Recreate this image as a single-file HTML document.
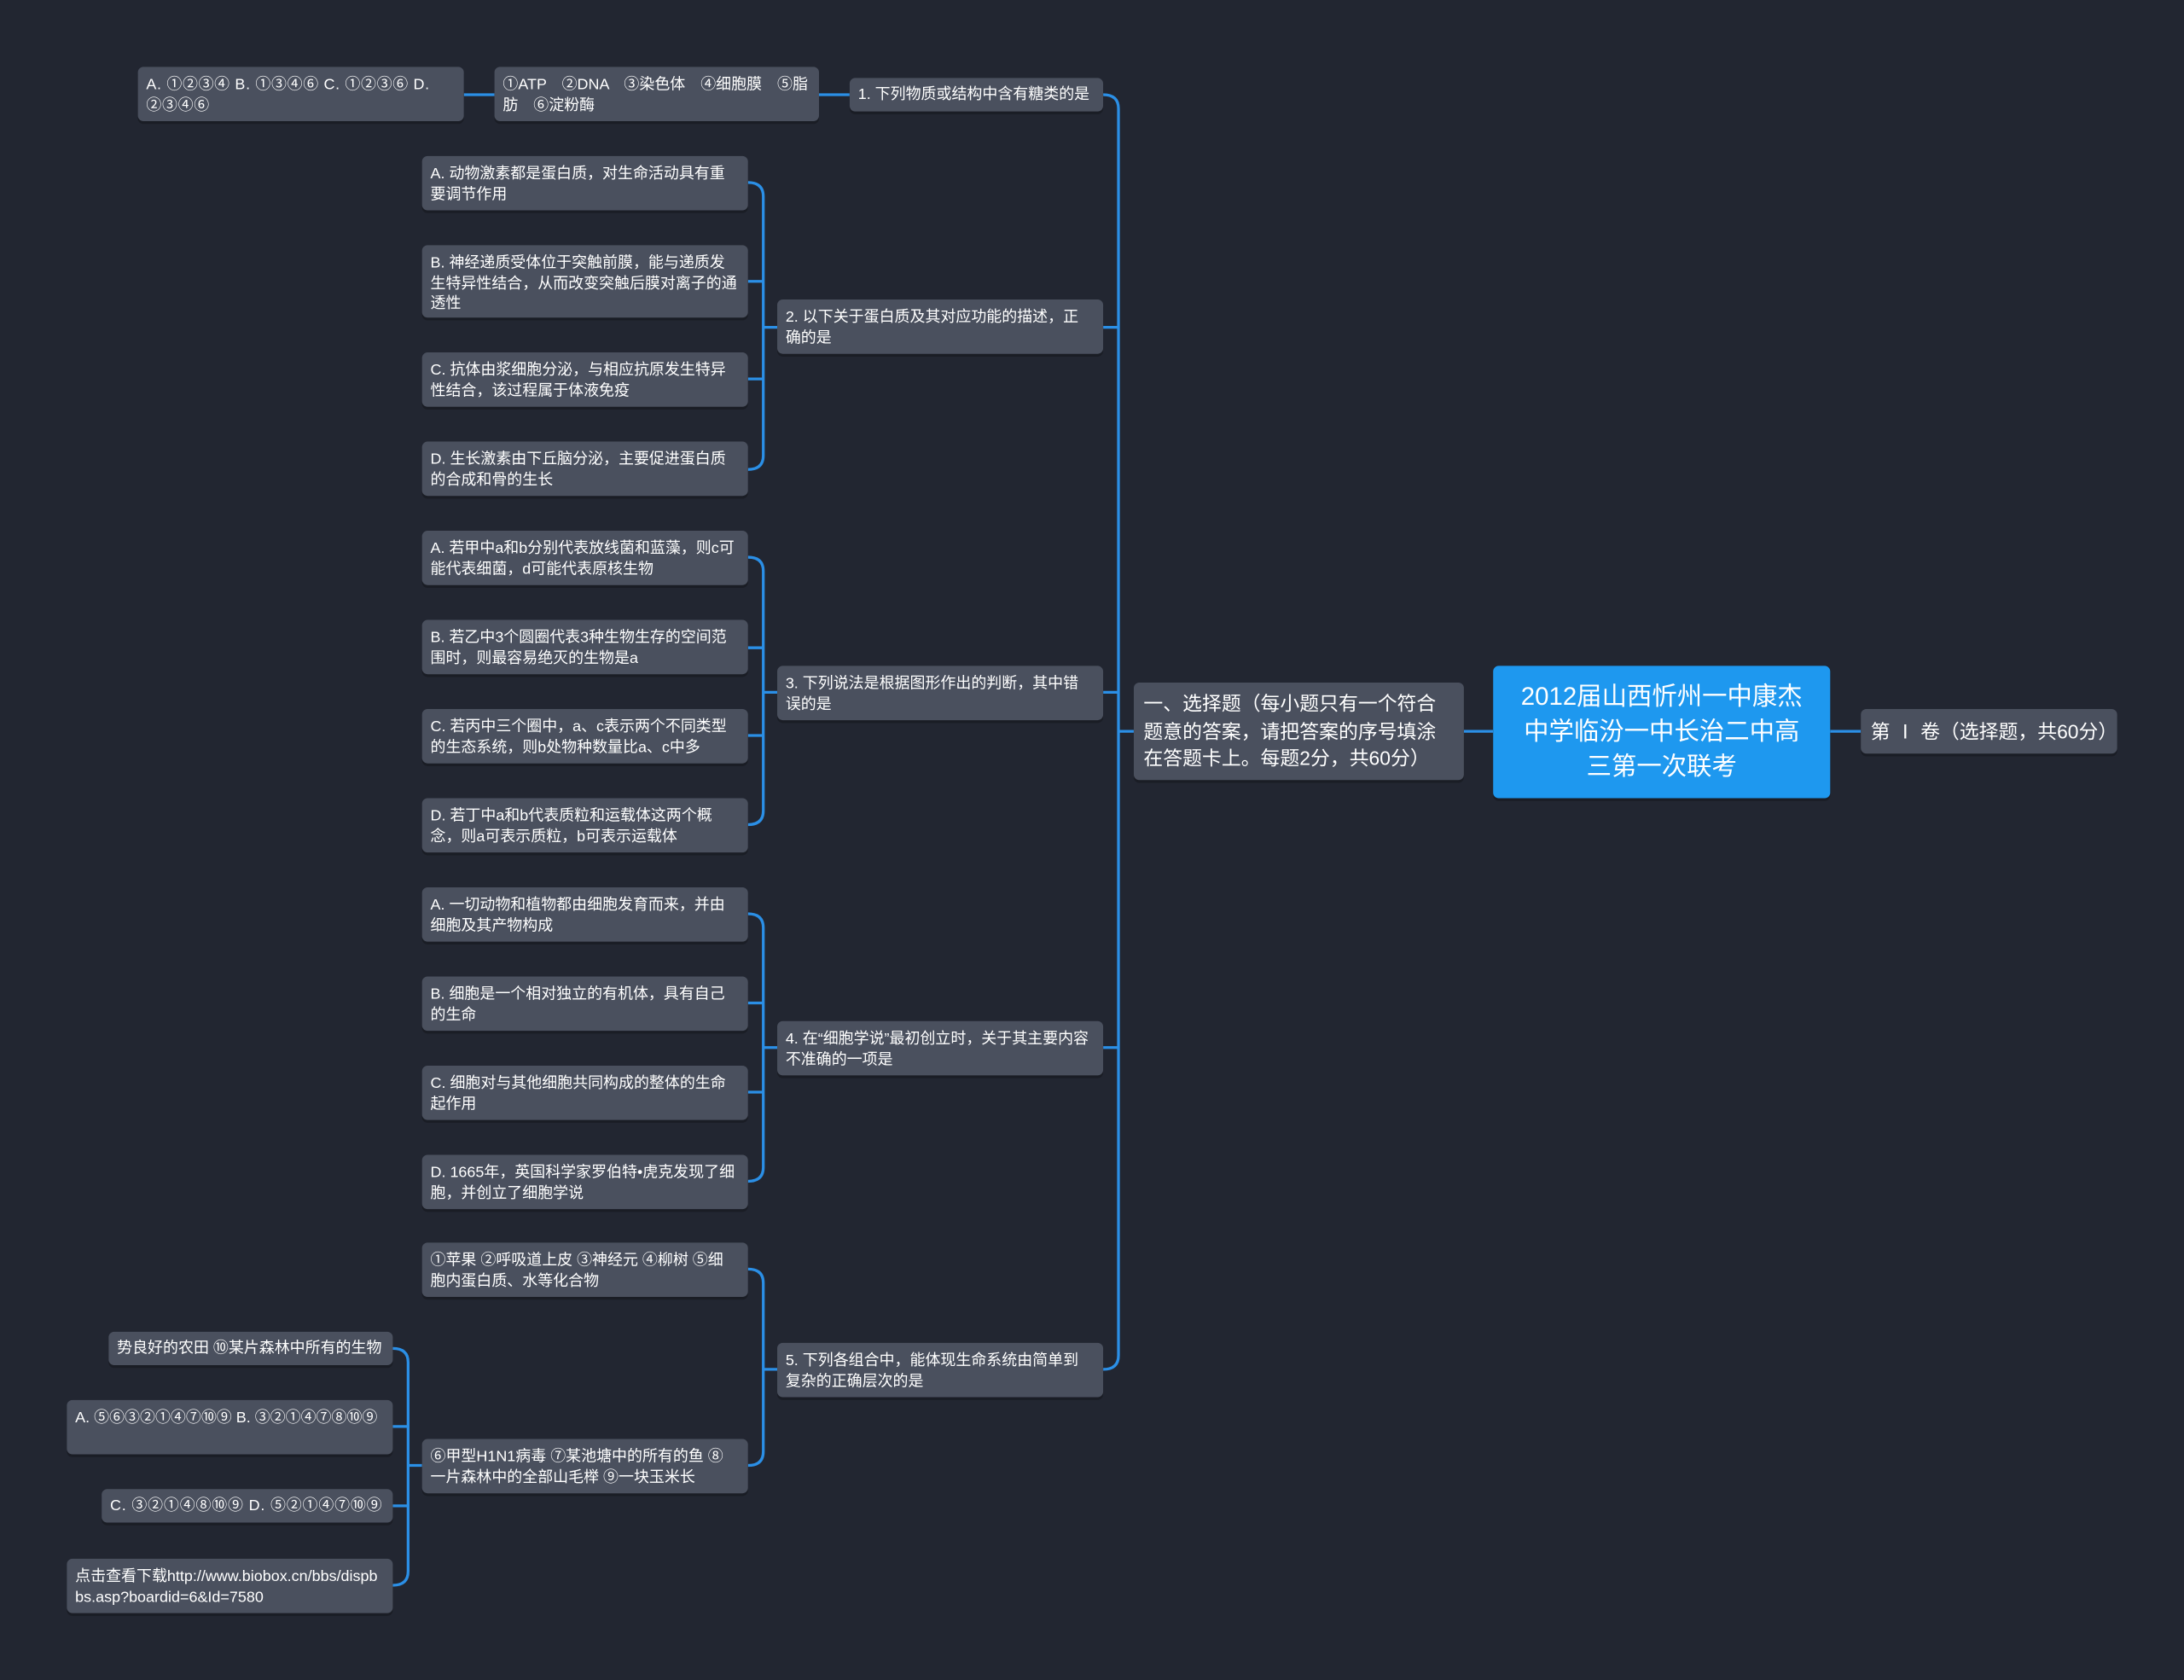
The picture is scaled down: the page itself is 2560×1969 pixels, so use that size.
<!DOCTYPE html>
<html><head><meta charset="utf-8"><style>
html,body{margin:0;padding:0;background:#222631;width:2560px;height:1969px;overflow:hidden}
#c{position:absolute;left:0;top:0;width:1568px;height:1206px;transform:scale(1.63265);transform-origin:0 0;font-family:"Liberation Sans","Noto Sans CJK SC",sans-serif}
.n{position:absolute;background:#4a505e;color:#fff;border-radius:4px;font-size:11px;line-height:14.5px;padding:6px 7px 5px 6px;box-sizing:border-box;box-shadow:0 2px 0 #1a1d25}
svg{position:absolute;left:0;top:0}
</style></head><body><div id="c">
<svg width="1568" height="1206" fill="none" stroke="#2b8fe6" stroke-width="2">
<path d="M1314 525H1336"/><path d="M1051 525H1072"/>
<path d="M814 525H803"/>
<path d="M792 68Q803 68 803 78V973Q803 983 792 983"/>
<path d="M792 235H803M792 497H803M792 752H803"/>
<path d="M588 68H610M333 68H355"/>
<path d="M537 131Q548 131 548 141V327Q548 337 537 337M537 202H548M537 272H548M548 235H558"/>
<path d="M537 400Q548 400 548 410V582Q548 592 537 592M537 465H548M537 528H548M548 497H558"/>
<path d="M537 656Q548 656 548 666V838Q548 848 537 848M537 720H548M537 784H548M548 752H558"/>
<path d="M537 911Q548 911 548 921V1042Q548 1052 537 1052M548 983H558"/>
<path d="M282 968Q293 968 293 978V1128Q293 1138 282 1138M282 1024H293M282 1081H293M293 1052H303"/>
</svg>
<div class="n" style="left:1072px;top:478px;width:242px;height:95px;background:#1e98ef;font-size:18px;line-height:25px;text-align:center;padding:10px 17px">2012届山西忻州一中康杰中学临汾一中长治二中高三第一次联考</div>
<div class="n" style="left:1336px;top:509px;width:184px;height:32px;font-size:14px;line-height:22px;padding:5px 7px;white-space:nowrap">第 Ⅰ 卷（选择题，共60分）</div>
<div class="n" style="left:814px;top:490px;width:237px;height:70px;font-size:14px;line-height:19.5px;padding:6px 8px 6px 7px">一、选择题（每小题只有一个符合题意的答案，请把答案的序号填涂在答题卡上。每题2分，共60分）</div>
<div class="n" style="left:610px;top:56px;width:182px;height:24px;padding:5px 5px 3px 6px">1. 下列物质或结构中含有糖类的是</div>
<div class="n" style="left:355px;top:48px;width:233px;height:39px">①ATP　②DNA　③染色体　④细胞膜　⑤脂肪　⑥淀粉酶</div>
<div class="n" style="left:99px;top:48px;width:234px;height:39px;letter-spacing:0.4px">A. ①②③④ B. ①③④⑥ C. ①②③⑥ D. ②③④⑥</div>
<div class="n" style="left:558px;top:215px;width:234px;height:39px">2. 以下关于蛋白质及其对应功能的描述，正确的是</div>
<div class="n" style="left:303px;top:112px;width:234px;height:39px">A. 动物激素都是蛋白质，对生命活动具有重要调节作用</div>
<div class="n" style="left:303px;top:176px;width:234px;height:52px">B. 神经递质受体位于突触前膜，能与递质发生特异性结合，从而改变突触后膜对离子的通透性</div>
<div class="n" style="left:303px;top:253px;width:234px;height:39px">C. 抗体由浆细胞分泌，与相应抗原发生特异性结合，该过程属于体液免疫</div>
<div class="n" style="left:303px;top:317px;width:234px;height:39px">D. 生长激素由下丘脑分泌，主要促进蛋白质的合成和骨的生长</div>
<div class="n" style="left:558px;top:478px;width:234px;height:39px">3. 下列说法是根据图形作出的判断，其中错误的是</div>
<div class="n" style="left:303px;top:381px;width:234px;height:39px">A. 若甲中a和b分别代表放线菌和蓝藻，则c可能代表细菌，d可能代表原核生物</div>
<div class="n" style="left:303px;top:445px;width:234px;height:39px">B. 若乙中3个圆圈代表3种生物生存的空间范围时，则最容易绝灭的生物是a</div>
<div class="n" style="left:303px;top:509px;width:234px;height:39px">C. 若丙中三个圈中，a、c表示两个不同类型的生态系统，则b处物种数量比a、c中多</div>
<div class="n" style="left:303px;top:573px;width:234px;height:39px">D. 若丁中a和b代表质粒和运载体这两个概念，则a可表示质粒，b可表示运载体</div>
<div class="n" style="left:558px;top:733px;width:234px;height:39px">4. 在“细胞学说”最初创立时，关于其主要内容不准确的一项是</div>
<div class="n" style="left:303px;top:637px;width:234px;height:39px">A. 一切动物和植物都由细胞发育而来，并由细胞及其产物构成</div>
<div class="n" style="left:303px;top:701px;width:234px;height:39px">B. 细胞是一个相对独立的有机体，具有自己的生命</div>
<div class="n" style="left:303px;top:765px;width:234px;height:39px">C. 细胞对与其他细胞共同构成的整体的生命起作用</div>
<div class="n" style="left:303px;top:829px;width:234px;height:39px">D. 1665年，英国科学家罗伯特•虎克发现了细胞，并创立了细胞学说</div>
<div class="n" style="left:558px;top:964px;width:234px;height:39px">5. 下列各组合中，能体现生命系统由简单到复杂的正确层次的是</div>
<div class="n" style="left:303px;top:892px;width:234px;height:39px">①苹果 ②呼吸道上皮 ③神经元 ④柳树 ⑤细胞内蛋白质、水等化合物</div>
<div class="n" style="left:303px;top:1033px;width:234px;height:39px">⑥甲型H1N1病毒 ⑦某池塘中的所有的鱼 ⑧一片森林中的全部山毛榉 ⑨一块玉米长</div>
<div class="n" style="left:78px;top:956px;width:204px;height:24px;padding:5px 5px 3px 6px">势良好的农田 ⑩某片森林中所有的生物</div>
<div class="n" style="left:48px;top:1005px;width:234px;height:39px;word-break:break-all">A. ⑤⑥③②①④⑦⑩⑨ B. ③②①④⑦⑧⑩⑨</div>
<div class="n" style="left:73px;top:1069px;width:209px;height:24px;padding:5px 5px 3px 6px;letter-spacing:0.5px">C. ③②①④⑧⑩⑨ D. ⑤②①④⑦⑩⑨</div>
<div class="n" style="left:48px;top:1119px;width:234px;height:39px;word-break:break-all">点击查看下载http://www.biobox.cn/bbs/dispbbs.asp?boardid=6&amp;Id=7580</div>
</div></body></html>
